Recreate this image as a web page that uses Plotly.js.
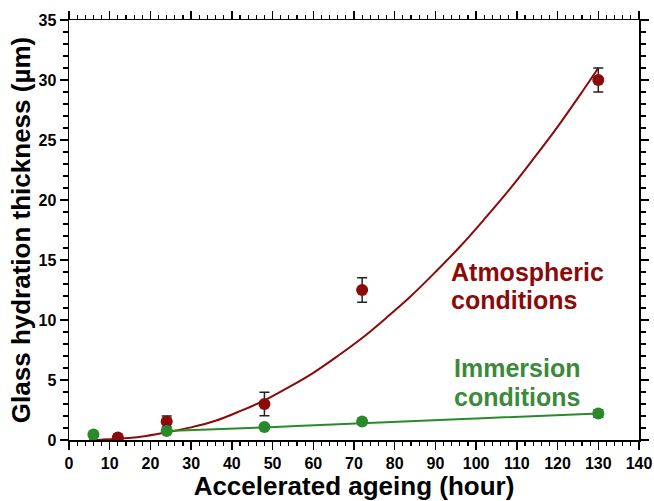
<!DOCTYPE html>
<html>
<head>
<meta charset="utf-8">
<script src="https://cdn.plot.ly/plotly-3.0.1.min.js"></script>
<style>html,body{margin:0;padding:0;background:#fff;}#chart{width:654px;height:501px;}</style>
</head>
<body>
<div id="chart"></div>
<script>
const atmHours = [12, 24, 48, 72, 130];
const atmThickness = [0.2, 1.55, 3.0, 12.5, 30.0];
const atmError = [0.1, 0.46, 0.97, 1.03, 1.0];

const immHours = [6, 24, 48, 72, 130];
const immThickness = [0.45, 0.75, 1.08, 1.55, 2.2];
const immError = [0.15, 0.1, 0.1, 0.1, 0.3];

// Fitted curves
const atmFitHours = [5, 8, 12, 18, 24, 30, 36, 42, 48, 54, 60, 66, 72, 78, 84, 90, 96, 102, 108, 114, 120, 126, 130];
const atmFitThickness = [0, 0.03, 0.1, 0.3, 0.65, 1.05, 1.6, 2.4, 3.3, 4.4, 5.6, 7.0, 8.5, 10.2, 12.0, 14.0, 16.1, 18.4, 20.8, 23.4, 26.1, 29.0, 31.0];
const immFitHours = [24, 48, 72, 100, 130];
const immFitThickness = [0.75, 1.05, 1.4, 1.8, 2.2];

const xTitle = 'Accelerated ageing (hour)';
const yTitle = 'Glass hydration thickness (µm)';
const atmLabel = ['Atmospheric', 'conditions'];
const immLabel = ['Immersion', 'conditions'];

const red = '#8b0a0a';
const green = '#2a8a2a';
const font = 'Liberation Sans, Arial, sans-serif';

const traces = [
  {x: atmFitHours, y: atmFitThickness, mode: 'lines', line: {color: red, width: 2, shape: 'spline'}, hoverinfo: 'skip'},
  {x: immFitHours, y: immFitThickness, mode: 'lines', line: {color: green, width: 2, shape: 'spline'}, hoverinfo: 'skip'},
  {x: atmHours, y: atmThickness, mode: 'markers', marker: {color: red, size: 12},
   error_y: {type: 'data', array: atmError, visible: true, color: '#222', thickness: 1.5, width: 5}},
  {x: immHours, y: immThickness, mode: 'markers', marker: {color: green, size: 12},
   error_y: {type: 'data', array: immError, visible: true, color: '#222', thickness: 1.5, width: 5}}
];

const axisCommon = {
  showgrid: false, zeroline: false, showline: true, linecolor: '#000', linewidth: 1.5,
  mirror: 'allticks', ticks: 'outside', ticklen: 8, tickwidth: 1.5, tickcolor: '#000',
  tickfont: {family: font, size: 16, weight: 'bold', color: '#000'},
};

const layout = {
  width: 654, height: 501,
  margin: {l: 69, r: 15, t: 20, b: 61},
  paper_bgcolor: '#fff', plot_bgcolor: '#fff',
  showlegend: false,
  xaxis: Object.assign({}, axisCommon, {
    range: [0, 140], dtick: 10, tick0: 0,
    minor: {dtick: 2, ticks: 'outside', ticklen: 4, tickwidth: 1.2, tickcolor: '#000'},
    title: {text: xTitle, font: {family: font, size: 26, weight: 'bold', color: '#000'}, standoff: 8},
    automargin: false
  }),
  yaxis: Object.assign({}, axisCommon, {
    range: [0, 35], dtick: 5, tick0: 0,
    minor: {dtick: 1, ticks: 'outside', ticklen: 5, tickwidth: 1.2, tickcolor: '#000'},
    title: {text: yTitle, font: {family: font, size: 26, weight: 'bold', color: '#000'}, standoff: 0},
    automargin: false
  }),
  annotations: [
    {x: 93.4, y: 14.0, text: atmLabel[0]},
    {x: 93.4, y: 11.67, text: atmLabel[1]},
  ].map(a => Object.assign(a, {xanchor: 'left', yanchor: 'middle', showarrow: false, font: {family: font, size: 25, weight: 'bold', color: red}}))
  .concat([
    {x: 94.1, y: 6.0, text: immLabel[0]},
    {x: 94.1, y: 3.6, text: immLabel[1]},
  ].map(a => Object.assign(a, {xanchor: 'left', yanchor: 'middle', showarrow: false, font: {family: font, size: 25, weight: 'bold', color: '#3a8a3a'}})))
};

Plotly.newPlot('chart', traces, layout, {displayModeBar: false, staticPlot: true});
</script>
</body>
</html>
